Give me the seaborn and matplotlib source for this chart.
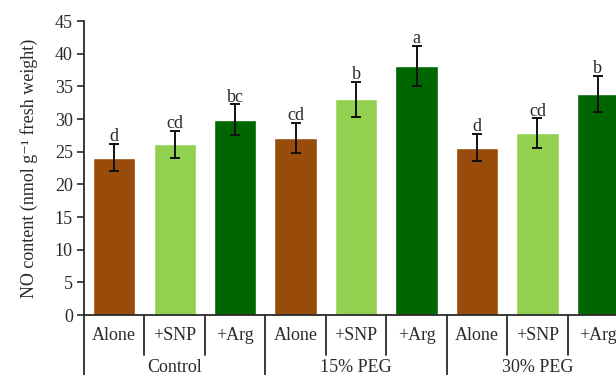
import matplotlib
matplotlib.use("Agg")
import matplotlib.pyplot as plt
import matplotlib.transforms as mtransforms
import seaborn as sns
import pandas as pd

# data
groups = ["Control", "15% PEG", "30% PEG"]
treatments = ["Alone", "+SNP", "+Arg"]
no_content = [24.1, 26.1, 29.9, 27.1, 33.0, 38.1, 25.6, 27.8, 33.8]
errors = [2.1, 2.1, 2.35, 2.3, 2.7, 3.1, 2.1, 2.3, 2.8]
letters = ["d", "cd", "bc", "cd", "b", "a", "d", "cd", "b"]
colors = {"Alone": "#994C0A", "+SNP": "#92D050", "+Arg": "#006600"}

rows = []
for gi, g in enumerate(groups):
    for ti, t in enumerate(treatments):
        k = gi * 3 + ti
        rows.append({"pos": f"{g} {t}", "group": g, "treat": t,
                     "value": no_content[k], "err": errors[k], "letter": letters[k]})
df = pd.DataFrame(rows)

sns.set_style("white")
plt.rcParams["font.family"] = ["Liberation Serif", "DejaVu Serif"]
txt = "#2a2a2a"
fs = 13

fig = plt.figure(figsize=(6.16, 3.75), dpi=100)
ax = fig.add_axes([84 / 616, 1 - 315 / 375, 1 - 84 / 616, 294 / 375])

sns.barplot(data=df, x="pos", y="value", hue="treat", palette=colors,
            dodge=False, width=0.70, saturation=1, legend=False, ax=ax,
            order=df["pos"].tolist())

xs = list(range(len(df)))
ax.errorbar(xs, df["value"], yerr=df["err"], fmt="none", ecolor="#111111",
            elinewidth=1.4, capsize=3.5, capthick=1.4, zorder=3)
for x, v, e, l in zip(xs, df["value"], df["err"], df["letter"]):
    ax.text(x, v + e - 0.2, l, ha="center", va="bottom", fontsize=fs, color=txt)

ax.set_ylim(0, 45)
ax.set_xlim(-0.5, 8.30)
ax.set_yticks(range(0, 46, 5))
ax.tick_params(axis="y", direction="out", length=5, width=1.2, labelsize=fs,
               colors=txt, left=True, pad=3)
ax.set_xticks([])
ax.set_xlabel("")
ax.set_ylabel("NO content (nmol g\u207b\u00b9 fresh weight)", fontsize=fs, color=txt, labelpad=12)

for s in ["top", "right"]:
    ax.spines[s].set_visible(False)
for s in ["left", "bottom"]:
    ax.spines[s].set_color(txt)
    ax.spines[s].set_linewidth(1.3)

# category axis below the bars
trans = mtransforms.blended_transform_factory(ax.transData, ax.transAxes)
short_bottom = -40 / 294
long_bottom = -62 / 294
for k in range(len(df)):
    ax.text(k, -20 / 294, df["treat"][k], transform=trans, ha="center", va="center",
            fontsize=fs, color=txt)
for gi, g in enumerate(groups):
    ax.text(gi * 3 + 1, -52 / 294, g, transform=trans, ha="center", va="center",
            fontsize=fs, color=txt)
for b in [0.5, 1.5, 3.5, 4.5, 6.5, 7.5]:
    ax.plot([b, b], [0, short_bottom], transform=trans, color=txt,
            lw=1.3, clip_on=False)
for b in [-0.5, 2.5, 5.5]:
    ax.plot([b, b], [0, long_bottom], transform=trans, color=txt,
            lw=1.3, clip_on=False)

fig.savefig("out.png", dpi=100)
